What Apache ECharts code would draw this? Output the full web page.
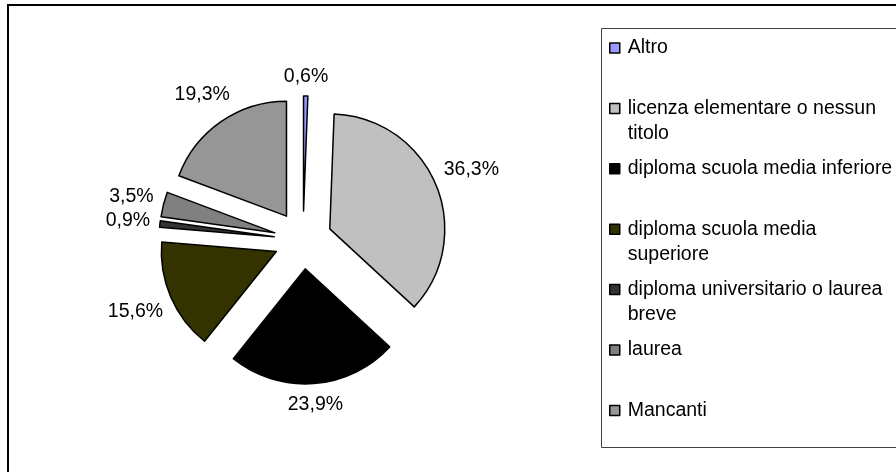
<!DOCTYPE html>
<html>
<head>
<meta charset="utf-8">
<script src="https://cdn.jsdelivr.net/npm/echarts@6/dist/echarts.min.js"></script>
<style>
  html, body { margin: 0; padding: 0; background: #fff; }
  #container_pie { width: 896px; height: 472px; }
</style>
</head>
<body>
<div id="container_pie"></div>
<script>
// categorie e valori (%)
var categories = [
    'Altro',
    'licenza elementare o nessun titolo',
    'diploma scuola media inferiore',
    'diploma scuola media superiore',
    'diploma universitario o laurea breve',
    'laurea',
    'Mancanti'
];
var values = [0.6, 36.3, 23.9, 15.6, 0.9, 3.5, 19.3];
// testo della legenda, con gli a capo come nell'originale
var legendLabels = [
    'Altro',
    'licenza elementare o nessun\ntitolo',
    'diploma scuola media inferiore',
    'diploma scuola media\nsuperiore',
    'diploma universitario o laurea\nbreve',
    'laurea',
    'Mancanti'
];
var colors = ['#9999ff', '#c0c0c0', '#000000', '#333300', '#333333', '#808080', '#969696'];

var myChart = echarts.init(document.getElementById('container_pie'));
var font = "'Liberation Sans', Arial, sans-serif";

var CX = 303, CY = 240, R = 115, OFFSET = 29, LABEL_GAP = 9;

// direzione della bisettrice di ogni fetta (partenza in alto, senso orario)
var total = values.reduce(function (a, b) { return a + b; }, 0);
function sliceDir(idx) {
    var cum = 0;
    for (var i = 0; i < idx; i++) cum += values[i];
    var ang = (cum + values[idx] / 2) / total * Math.PI * 2;
    return [Math.sin(ang), -Math.cos(ang)];
}

function fmtPerc(p) {
    return p.value.toFixed(1).replace('.', ',') + '%';
}

var option = {
    animation: false,
    backgroundColor: '#fff',
    graphic: [
        {   // cornice del grafico
            type: 'rect', z: -10, silent: true,
            shape: { x: 8, y: 5, width: 1000, height: 1000 },
            style: { fill: 'none', stroke: '#000', lineWidth: 2 }
        },
        {   // riquadro legenda
            type: 'rect', z: -10, silent: true,
            shape: { x: 601.5, y: 28.5, width: 400, height: 419 },
            style: { fill: 'none', stroke: '#404040', lineWidth: 1 }
        }
    ],
    legend: {
        orient: 'vertical',
        left: 609,
        top: 10.5,
        padding: 0,
        itemGap: -14.6,
        itemWidth: 10,
        itemHeight: 10,
        icon: 'rect',
        selectedMode: false,
        itemStyle: { borderColor: '#000', borderWidth: 1.5 },
        textStyle: { color: '#000', fontFamily: font, fontSize: 19.5, lineHeight: 25, padding: [0, 0, 0, 3] },
        // riga vuota sopra (e sotto) per allineare la prima riga all'icona
        formatter: function (name) {
            var t = legendLabels[categories.indexOf(name)];
            return '\n' + t + (t.indexOf('\n') >= 0 ? '' : '\n');
        },
        data: categories
    },
    series: [
        {   // torta esplosa
            type: 'pie',
            center: [CX, CY],
            radius: R,
            startAngle: 90,
            clockwise: true,
            selectedMode: 'multiple',
            selectedOffset: OFFSET,
            emphasis: { disabled: true },
            itemStyle: { borderColor: '#000', borderWidth: 1.5 },
            label: { show: false },
            labelLine: { show: false },
            data: categories.map(function (name, i) {
                return { name: name, value: values[i], selected: true, itemStyle: { color: colors[i] } };
            })
        },
        {   // solo etichette, centrate sulla bisettrice fuori dalla fetta
            type: 'pie',
            center: [CX, CY],
            radius: R,
            startAngle: 90,
            clockwise: true,
            silent: true,
            selectedMode: false,
            avoidLabelOverlap: false,
            emphasis: { disabled: true },
            itemStyle: { color: 'rgba(0,0,0,0)', borderWidth: 0 },
            label: {
                show: true,
                position: 'outside',
                color: '#000',
                fontFamily: font,
                fontSize: 19.5,
                formatter: fmtPerc
            },
            labelLine: { show: false },
            labelLayout: function (p) {
                var d = sliceDir(p.dataIndex);
                var w = p.labelRect.width, h = p.labelRect.height;
                var dist = OFFSET + R + LABEL_GAP + w / 2 * Math.abs(d[0]) + h / 2 * Math.abs(d[1]);
                return {
                    x: CX + d[0] * dist,
                    y: CY + d[1] * dist,
                    align: 'center',
                    verticalAlign: 'middle'
                };
            },
            data: categories.map(function (name, i) {
                return { name: name, value: values[i] };
            })
        }
    ]
};

myChart.setOption(option);
window.onresize = myChart.resize;
</script>
</body>
</html>
